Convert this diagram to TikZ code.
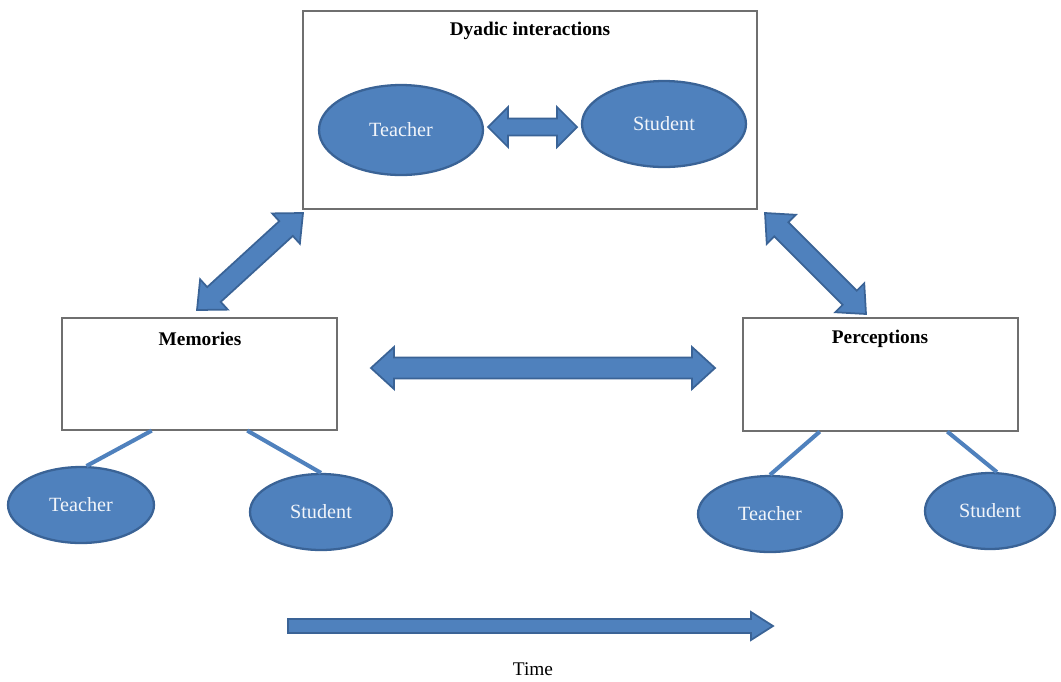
\documentclass[tikz,border=0pt]{standalone}
\usepackage{fontspec}
\setmainfont{Liberation Serif}
\usetikzlibrary{shapes.geometric,calc}
\definecolor{ofblue}{HTML}{4F81BD}
\definecolor{ofdark}{HTML}{3A6396}
\definecolor{boxgray}{HTML}{6F6F6F}
\definecolor{blobtext}{HTML}{F2F5FA}
\tikzset{
  panel/.style={draw=boxgray, line width=0.7pt, fill=white},
  blob/.style={ellipse, draw=ofdark, line width=1.3pt, fill=ofblue, text=blobtext, inner sep=0pt, font=\fontsize{11.5}{13}\selectfont},
  heading/.style={font=\bfseries\fontsize{11}{13}\selectfont},
  plaintext/.style={font=\fontsize{11}{13}\selectfont},
  stem/.style={draw=ofblue, line width=2.3pt},
  blockarrow/.style={fill=ofblue, draw=ofdark, line width=1pt, line join=miter}
}
% double block arrow: #1,#2 tips; #3 half shaft; #4 half head; #5 head length
\newcommand{\blockdbl}[5]{%
  \coordinate (ba1) at ($(#1)!#5!(#2)$);
  \coordinate (ba2) at ($(#2)!#5!(#1)$);
  \filldraw[blockarrow] (#1) -- ($(ba1)!#4!90:(#2)$) -- ($(ba1)!#3!90:(#2)$)
    -- ($(ba2)!#3!-90:(#1)$) -- ($(ba2)!#4!-90:(#1)$) -- (#2)
    -- ($(ba2)!#4!90:(#1)$) -- ($(ba2)!#3!90:(#1)$)
    -- ($(ba1)!#3!-90:(#2)$) -- ($(ba1)!#4!-90:(#2)$) -- cycle;}
% single block arrow: #1 tail, #2 tip
\newcommand{\blocksgl}[5]{%
  \coordinate (bb) at ($(#2)!#5!(#1)$);
  \filldraw[blockarrow] ($(#1)!#3!90:(#2)$) -- ($(bb)!#3!-90:(#1)$) -- ($(bb)!#4!-90:(#1)$)
    -- (#2) -- ($(bb)!#4!90:(#1)$) -- ($(bb)!#3!90:(#1)$) -- ($(#1)!#3!-90:(#2)$) -- cycle;}
\begin{document}
\begin{tikzpicture}[x=0.02cm, y=-0.02cm]
\useasboundingbox[fill=white] (0,0) rectangle (1061,681);

% panels
\node[panel, minimum width=9.08cm, minimum height=3.96cm] (dyad) at (530,110) {};
\node[heading] (dyadtitle) at (530,31) {Dyadic interactions};
\node[panel, minimum width=5.5cm, minimum height=2.24cm] (mem) at (199.5,374) {};
\node[heading] (memtitle) at (200,339) {Memories};
\node[panel, minimum width=5.5cm, minimum height=2.26cm] (perc) at (880.5,374.5) {};
\node[heading] (perctitle) at (880,339) {Perceptions};

% ellipses
\node[blob, minimum width=3.28cm, minimum height=1.8cm] (dT) at (401,130) {Teacher};
\node[blob, minimum width=3.28cm, minimum height=1.72cm] (dS) at (664,124) {Student};
\node[blob, minimum width=2.92cm, minimum height=1.52cm] (mT) at (81,505) {Teacher};
\node[blob, minimum width=2.84cm, minimum height=1.52cm] (mS) at (321,512) {Student};
\node[blob, minimum width=2.88cm, minimum height=1.52cm] (pT) at (770,514) {Teacher};
\node[blob, minimum width=2.6cm, minimum height=1.52cm] (pS) at (990,511) {Student};

% stems
\draw[stem] ($(mem.south west)!0.327!(mem.south east)$) -- (mT.82);
\draw[stem] ($(mem.south west)!0.673!(mem.south east)$) -- (mS.north);
\draw[stem] ($(perc.south west)!0.28!(perc.south east)$) -- (pT.north);
\draw[stem] ($(perc.south west)!0.742!(perc.south east)$) -- (pS.80);

% block arrows
\coordinate (dA) at (488,127);
\coordinate (dB) at (577,127);
\blockdbl{dA}{dB}{0.17cm}{0.4cm}{0.4cm}
\coordinate (lA) at (197,310);
\coordinate (lB) at (303,213);
\blockdbl{lA}{lB}{0.2cm}{0.41cm}{0.46cm}
\coordinate (rA) at (765,213);
\coordinate (rB) at (866,314);
\blockdbl{rA}{rB}{0.2cm}{0.41cm}{0.46cm}
\coordinate (mA) at (371,368);
\coordinate (mB) at (715,368);
\blockdbl{mA}{mB}{0.21cm}{0.42cm}{0.46cm}
\coordinate (tA) at (288,626);
\coordinate (tB) at (773,626);
\blocksgl{tA}{tB}{0.14cm}{0.28cm}{0.44cm}

\node[plaintext] (timelabel) at (533,669) {Time};
\end{tikzpicture}
\end{document}
